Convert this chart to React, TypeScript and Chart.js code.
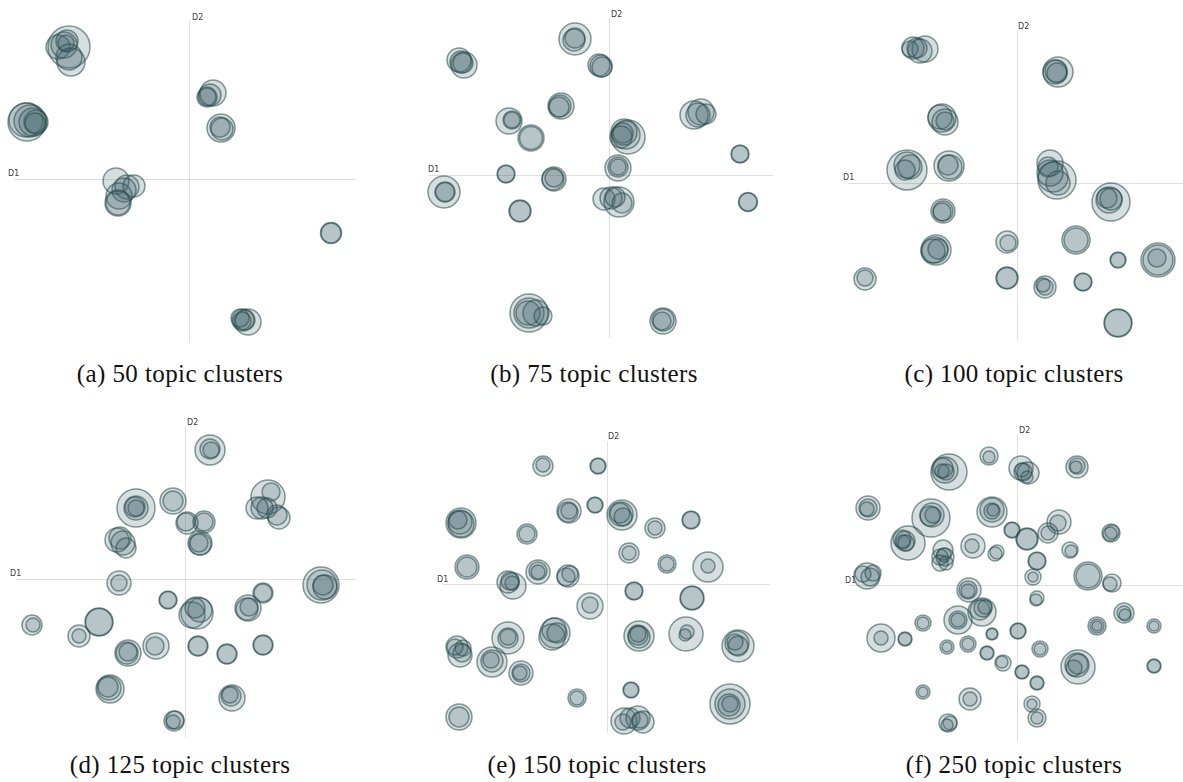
import { useEffect, useRef } from "react";
import { Chart, registerables } from "chart.js";

Chart.register(...registerables);

// Each topic cluster: [D1, D2, bubble radius]
type Topic = [number, number, number];

const clusters50: Topic[] = [
  [-120, 132, 21], [-131, 132, 12], [-122, 138, 11], [-125, 134, 13], [-120, 122, 13], [-118, 117, 14], [-123, 136, 8],
  [-162, 57, 19], [-163, 59, 17], [-159, 58, 16], [-156, 57, 14], [-153, 57, 12], [-154, 56, 10],
  [-73, -2, 13], [-62, -8, 12], [-55, -7, 11], [-65, -11, 12], [-70, -17, 13], [-71, -24, 13], [-71, -24, 12],
  [24, 86, 13], [21, 84, 11], [18, 82, 10], [18, 82, 9],
  [32, 51, 14], [33, 50, 11], [31, 52, 10],
  [142, -54, 10.5], [142, -54, 10],
  [59, -143, 13], [54, -141, 11], [56, -141, 10], [51, -139, 9], [53, -142, 9],
];

const clusters75: Topic[] = [
  [-34, 136, 16], [-35, 135, 11], [-34, 137, 10],
  [-10, 110, 11], [-8, 109, 11], [-7, 108, 10],
  [-150, 115, 12], [-148, 113, 11], [-146, 112, 10], [-145, 110, 13],
  [-48, 69, 13], [-49, 69, 11], [-50, 68, 10],
  [-100, 54, 13], [-97, 55, 9], [-97, 55, 8],
  [-78, 37, 13], [-78, 37, 11.5],
  [19, 38, 17], [15, 43, 13], [14, 42, 10], [12, 38, 11], [17, 40, 14],
  [85, 60, 14], [92, 63, 13], [89, 60, 12], [97, 61, 10],
  [131, 21, 9], [131, 21, 8.5],
  [9, 7, 13], [9, 8, 10], [9, 8, 8],
  [-165, -17, 16], [-164, -17, 10], [-164, -17, 9.5],
  [-103, 1, 9], [-103, 1, 8.5],
  [-55, -4, 12], [-56, -4, 11], [-55, -3, 9],
  [-89, -36, 11], [-89, -36, 10.5],
  [-5, -24, 11], [2, -23, 11], [10, -27, 15], [13, -28, 10], [6, -22, 10],
  [139, -27, 9.5], [139, -27, 9],
  [-80, -138, 19], [-80, -138, 15], [-81, -138, 12], [-73, -138, 13], [-66, -141, 9],
  [54, -146, 13], [54, -145, 11], [53, -146, 9],
];

const clusters100: Topic[] = [
  [-104, 135, 11], [-97, 132, 12], [-92, 134, 13], [-107, 134, 8], [-100, 135, 10],
  [41, 111, 15], [39, 112, 11], [38, 111, 12], [40, 110, 10],
  [-75, 65, 14], [-77, 66, 12], [-72, 61, 13], [-72, 62, 9],
  [-110, 13, 20], [-110, 18, 13], [-107, 16, 12], [-112, 13, 10],
  [-68, 17, 15], [-67, 16, 12], [-69, 18, 10],
  [33, 20, 13], [31, 16, 10], [40, 3, 19], [36, 6, 15], [41, 0, 12], [33, 10, 13],
  [94, -19, 19], [92, -17, 13], [94, -16, 11], [90, -15, 10],
  [-74, -28, 12], [-74, -28, 10], [-75, -29, 9],
  [-81, -67, 15], [-82, -67, 13], [-84, -68, 12], [-79, -66, 10],
  [-10, -59, 11], [-9, -60, 8],
  [59, -57, 14], [59, -57, 12],
  [101, -77, 8], [101, -77, 7.5],
  [141, -77, 17], [141, -77, 15], [140, -75, 9],
  [-152, -96, 11], [-152, -95, 8],
  [-10, -95, 11], [-10, -95, 10.5],
  [28, -104, 11], [28, -104, 8], [26, -102, 7],
  [66, -99, 9], [66, -99, 8.5],
  [101, -140, 14], [101, -140, 13.5],
];

const clusters125: Topic[] = [
  [25, 129, 15], [25, 130, 10], [26, 129, 8],
  [-49, 71, 19], [-49, 71, 12], [-50, 72, 10], [-49, 71, 8],
  [-12, 78, 13], [-12, 78, 10],
  [83, 82, 17], [86, 87, 9], [72, 71, 11], [77, 71, 11], [82, 71, 10], [94, 61, 11], [92, 64, 10],
  [2, 56, 11], [1, 57, 9], [19, 57, 11], [19, 57, 9],
  [15, 36, 12], [15, 35, 11], [14, 36, 9],
  [-68, 39, 12], [-65, 41, 11], [-62, 36, 12], [-59, 31, 10],
  [-66, -4, 12], [-66, -4, 8],
  [136, -6, 18], [137, -6, 15], [140, -8, 12], [138, -6, 10],
  [-17, -21, 9], [-17, -21, 8.5],
  [12, -34, 16], [7, -36, 13], [15, -31, 12], [10, -29, 10],
  [78, -14, 10], [78, -14, 9],
  [63, -29, 13], [62, -30, 11], [64, -28, 9],
  [-153, -46, 10], [-152, -46, 7],
  [-86, -43, 14], [-86, -43, 13.5],
  [-106, -57, 11], [-106, -57, 7],
  [-57, -74, 13], [-58, -74, 11], [-57, -73, 9],
  [-29, -67, 13], [-30, -67, 9],
  [13, -67, 10], [13, -67, 9.5],
  [42, -75, 10], [42, -75, 9.5],
  [78, -66, 10], [78, -66, 9.5],
  [-75, -110, 14], [-76, -109, 12], [-77, -108, 10],
  [47, -119, 13], [46, -117, 10], [45, -116, 8],
  [-11, -142, 10], [-10, -141, 9], [-12, -143, 7],
];

const clusters150: Topic[] = [
  [-64, 118, 10], [-64, 119, 7],
  [-9, 118, 8], [-9, 118, 7.5],
  [-38, 73, 12], [-39, 72, 10], [-38, 73, 8],
  [-12, 79, 8], [-12, 79, 7.5],
  [15, 69, 15], [14, 70, 12], [13, 71, 10], [16, 67, 9],
  [-146, 61, 15], [-146, 60, 13], [-147, 62, 12], [-149, 64, 9],
  [-80, 50, 10], [-80, 50, 8],
  [48, 56, 10], [48, 56, 7],
  [84, 64, 9], [84, 64, 8.5],
  [22, 31, 10], [22, 31, 7],
  [-140, 17, 12], [-140, 17, 10],
  [-69, 12, 12], [-69, 13, 9], [-69, 12, 7],
  [-39, 8, 11], [-41, 7, 9], [-37, 10, 8],
  [60, 20, 9], [60, 20, 7],
  [101, 17, 15], [101, 18, 7],
  [27, -7, 9], [27, -7, 8.5],
  [85, -14, 12], [85, -14, 11.5],
  [-99, 2, 11], [-94, -2, 13], [-97, 3, 9], [-95, 1, 7],
  [-17, -22, 13], [-17, -21, 8],
  [-52, -49, 15], [-55, -53, 13], [-53, -46, 12], [-50, -49, 10],
  [-99, -54, 16], [-99, -54, 10], [-99, -53, 8],
  [32, -52, 15], [32, -53, 11], [31, -51, 10], [31, -50, 8],
  [79, -50, 17], [80, -48, 7], [78, -51, 6],
  [131, -62, 16], [130, -59, 12], [131, -62, 10], [128, -58, 8],
  [-150, -63, 11], [-147, -71, 12], [-144, -64, 8], [-145, -69, 9], [-152, -63, 8],
  [-115, -78, 15], [-115, -77, 11], [-116, -76, 8],
  [-86, -89, 12], [-86, -89, 9], [-87, -89, 7],
  [-30, -114, 9], [-30, -114, 7],
  [24, -106, 8], [24, -106, 7.5],
  [123, -120, 20], [123, -120, 15], [122, -121, 11], [123, -120, 8],
  [-148, -133, 13], [-148, -133, 10],
  [17, -137, 13], [31, -134, 12], [36, -138, 11], [23, -134, 10], [16, -138, 8], [33, -136, 8],
];

const clusters250: Topic[] = [
  [-28, 129, 9], [-28, 128, 6],
  [-68, 113, 18], [-72, 115, 13], [-74, 117, 10], [-71, 113, 8], [-75, 114, 7],
  [4, 117, 12], [11, 112, 11], [6, 113, 9], [5, 115, 7], [10, 108, 6],
  [60, 118, 11], [60, 119, 8], [59, 118, 6],
  [-149, 77, 12], [-149, 77, 9], [-150, 76, 7],
  [-86, 67, 19], [-85, 70, 12], [-87, 69, 10], [-84, 70, 8],
  [-109, 42, 17], [-112, 44, 10], [-115, 46, 9], [-111, 42, 8], [-114, 43, 7],
  [-25, 73, 15], [-25, 75, 12], [-25, 74, 8], [-24, 75, 6],
  [-5, 55, 8], [-5, 55, 7.5],
  [10, 46, 11], [10, 46, 10.5],
  [42, 63, 12], [41, 62, 8],
  [31, 52, 10], [31, 52, 7],
  [94, 52, 9], [95, 53, 7], [93, 51, 7],
  [-44, 39, 12], [-45, 39, 7],
  [-20, 33, 7], [-22, 31, 7],
  [53, 35, 8], [54, 34, 6],
  [-74, 35, 10], [-73, 30, 7], [-77, 28, 8], [-72, 28, 9], [-77, 22, 8], [-71, 22, 7],
  [20, 24, 9], [20, 24, 8.5],
  [-150, 9, 13], [-147, 8, 9], [-154, 11, 8], [-144, 12, 8],
  [16, 8, 8], [16, 8, 5],
  [71, 9, 14], [71, 9, 12],
  [95, 2, 9], [93, 1, 7],
  [-48, -5, 12], [-49, -5, 9], [-49, -6, 7],
  [20, -13, 7], [19, -15, 6],
  [-35, -27, 14], [-37, -25, 10], [-34, -23, 9], [-32, -22, 7],
  [-59, -35, 14], [-59, -35, 9], [-59, -35, 7],
  [-94, -38, 8], [-94, -38, 6],
  [107, -28, 10], [107, -28, 7], [108, -30, 6],
  [80, -41, 9], [80, -41, 7], [80, -41, 5],
  [137, -41, 7], [137, -41, 5],
  [-136, -53, 14], [-136, -53, 7],
  [-112, -54, 7], [-112, -54, 6.5],
  [1, -46, 8], [1, -46, 7.5],
  [-25, -49, 6], [-25, -49, 5.5],
  [-70, -62, 7], [-70, -62, 5],
  [-49, -59, 8], [-49, -59, 6],
  [-30, -68, 7], [-30, -68, 6.5],
  [-14, -78, 8], [-15, -77, 6],
  [23, -64, 8], [23, -64, 6],
  [61, -82, 17], [60, -80, 12], [61, -79, 10], [57, -83, 8],
  [137, -81, 7], [137, -81, 6.5],
  [5, -87, 7], [5, -87, 6.5],
  [20, -98, 7], [20, -98, 6.5],
  [-94, -107, 7], [-94, -107, 5],
  [-47, -114, 11], [-47, -114, 7],
  [15, -119, 8], [15, -119, 5],
  [20, -133, 9], [20, -133, 6],
  [-69, -138, 9], [-67, -138, 7], [-70, -140, 6],
];

const captions = [
  "(a) 50 topic clusters",
  "(b) 75 topic clusters",
  "(c) 100 topic clusters",
  "(d) 125 topic clusters",
  "(e) 150 topic clusters",
  "(f) 250 topic clusters",
];

const axisNames = ["D1", "D2"];

// Page-pixel layout of each map: canvas box, origin, axis-line extents, caption centre
interface PanelLayout {
  left: number; top: number; width: number; height: number;
  ox: number; oy: number;
  hx0: number; hx1: number; vy0: number; vy1: number;
  d1x: number; d1y: number; d2x: number; d2y: number;
  capX: number; capY: number;
}

const layouts: PanelLayout[] = [
  { left: 0, top: 0, width: 400, height: 355, ox: 189, oy: 179, hx0: 14, hx1: 356, vy0: 20, vy1: 342, d1x: 8, d1y: 176, d2x: 192, d2y: 20, capX: 180, capY: 361 },
  { left: 400, top: 0, width: 400, height: 355, ox: 609, oy: 175, hx0: 428, hx1: 773, vy0: 18, vy1: 338, d1x: 428, d1y: 172, d2x: 611, d2y: 17, capX: 594, capY: 361 },
  { left: 800, top: 0, width: 383, height: 355, ox: 1017, oy: 183, hx0: 848, hx1: 1183, vy0: 30, vy1: 340, d1x: 843, d1y: 180, d2x: 1018, d2y: 29, capX: 1014, capY: 361 },
  { left: 0, top: 390, width: 400, height: 360, ox: 185, oy: 579, hx0: 16, hx1: 356, vy0: 427, vy1: 737, d1x: 10, d1y: 576, d2x: 187, d2y: 425, capX: 180, capY: 752 },
  { left: 400, top: 390, width: 400, height: 360, ox: 607, oy: 584, hx0: 443, hx1: 770, vy0: 442, vy1: 733, d1x: 437, d1y: 582, d2x: 608, d2y: 439, capX: 597, capY: 752 },
  { left: 800, top: 390, width: 383, height: 360, ox: 1017, oy: 585, hx0: 850, hx1: 1183, vy0: 435, vy1: 741, d1x: 845, d1y: 583, d2x: 1019, d2y: 433, capX: 1014, capY: 752 },
];

const panelData: Topic[][] = [clusters50, clusters75, clusters100, clusters125, clusters150, clusters250];

const FILL = "rgba(55, 92, 102, 0.2)";
const STROKE = "rgba(38, 72, 72, 0.55)";

// Draws the two faint D1/D2 axis lines through the origin, with their names
const originAxes = {
  id: "originAxes",
  beforeDatasetsDraw(chart: any, _args: any, opts: any) {
    const L: PanelLayout = opts.layout;
    const { ctx } = chart;
    const x0 = chart.scales.x.getPixelForValue(0);
    const y0 = chart.scales.y.getPixelForValue(0);
    ctx.save();
    ctx.strokeStyle = "rgba(0, 0, 0, 0.12)";
    ctx.lineWidth = 1;
    ctx.beginPath();
    ctx.moveTo(L.hx0 - L.left, Math.round(y0) + 0.5);
    ctx.lineTo(L.hx1 - L.left, Math.round(y0) + 0.5);
    ctx.moveTo(Math.round(x0) + 0.5, L.vy0 - L.top);
    ctx.lineTo(Math.round(x0) + 0.5, L.vy1 - L.top);
    ctx.stroke();
    ctx.fillStyle = "#3a3a3a";
    ctx.font = '8px "DejaVu Sans", Verdana, sans-serif';
    ctx.textBaseline = "alphabetic";
    ctx.textAlign = "left";
    ctx.fillText(axisNames[0], L.d1x - L.left, L.d1y - L.top);
    ctx.fillText(axisNames[1], L.d2x - L.left, L.d2y - L.top);
    ctx.restore();
  },
};

function TopicMap({ layout, topics }: { layout: PanelLayout; topics: Topic[] }) {
  const ref = useRef<HTMLCanvasElement | null>(null);

  useEffect(() => {
    if (!ref.current) return;
    const L = layout;
    const chart = new Chart(ref.current, {
      type: "bubble",
      data: {
        datasets: [
          {
            data: topics.map(([x, y, r]) => ({ x, y, r })),
            backgroundColor: FILL,
            borderColor: STROKE,
            borderWidth: 1.5,
            hoverRadius: 0,
            clip: false,
          } as any,
        ],
      },
      options: {
        responsive: false,
        animation: false,
        events: [],
        layout: { padding: 0 },
        plugins: {
          legend: { display: false },
          tooltip: { enabled: false },
          originAxes: { layout: L },
        } as any,
        scales: {
          x: { type: "linear", min: L.left - L.ox, max: L.left + L.width - L.ox, display: false },
          y: { type: "linear", min: L.oy - (L.top + L.height), max: L.oy - L.top, display: false },
        },
      },
      plugins: [originAxes],
    });

    // The bubble layout insets the plot by the largest radius; refit the
    // D1/D2 ranges to the resulting plot area so one unit stays one pixel.
    const ca = chart.chartArea;
    const xs: any = chart.options.scales!.x;
    const ys: any = chart.options.scales!.y;
    xs.min = L.left + ca.left - L.ox;
    xs.max = L.left + ca.right - L.ox;
    ys.max = L.oy - (L.top + ca.top);
    ys.min = L.oy - (L.top + ca.bottom);
    chart.update();

    return () => chart.destroy();
  }, [layout, topics]);

  return (
    <canvas
      ref={ref}
      width={layout.width}
      height={layout.height}
      style={{ position: "absolute", left: layout.left, top: layout.top, width: layout.width, height: layout.height }}
    />
  );
}

export default function App() {
  return (
    <div style={{ position: "absolute", left: 0, top: 0, width: 1183, height: 782, background: "#fff", overflow: "hidden" }}>
      {layouts.map((L, i) => (
        <TopicMap key={i} layout={L} topics={panelData[i]} />
      ))}
      {layouts.map((L, i) => (
        <div
          key={"cap" + i}
          style={{
            position: "absolute",
            left: L.capX - 160,
            top: L.capY,
            width: 320,
            textAlign: "center",
            fontFamily: '"Liberation Serif", serif',
            fontSize: 25,
            lineHeight: "25px",
            letterSpacing: "0.4px",
            color: "#111",
            whiteSpace: "nowrap",
          }}
        >
          {captions[i]}
        </div>
      ))}
    </div>
  );
}
